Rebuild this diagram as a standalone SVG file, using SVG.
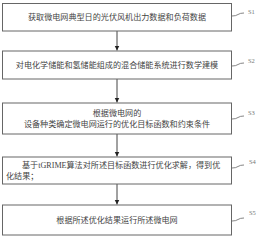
<svg xmlns="http://www.w3.org/2000/svg" width="260" height="238" viewBox="0 0 260 238">
<defs>
<style>
.box{fill:#fff;stroke:#666;stroke-width:1}
.t{font-family:"Liberation Serif","Noto Sans CJK SC",serif;font-size:8.1px;fill:#444}
.lbl{font-family:"Liberation Serif",serif;font-size:6.5px;fill:#777}
.lead{fill:none;stroke:#666;stroke-width:0.8}
.conn{stroke:#444;stroke-width:1;fill:none}
</style>
<marker id="ah" markerWidth="6" markerHeight="6" refX="5" refY="3" orient="auto" markerUnits="userSpaceOnUse">
<path d="M0,0.5 L5,3 L0,5.5 z" fill="#222"/>
</marker>
</defs>
<rect width="260" height="238" fill="#fff"/>
<g id="connectors">
<line class="conn" x1="117" y1="31" x2="117" y2="50.5" marker-end="url(#ah)"/>
<line class="conn" x1="117" y1="79" x2="117" y2="102.5" marker-end="url(#ah)"/>
<line class="conn" x1="117" y1="134" x2="117" y2="156.5" marker-end="url(#ah)"/>
<line class="conn" x1="117" y1="184" x2="117" y2="204.5" marker-end="url(#ah)"/>
</g>
<g id="s1">
<rect class="box" x="2.5" y="3.5" width="229" height="27.5"/>
<text class="t" x="117" y="20" text-anchor="middle">获取微电网典型日的光伏风机出力数据和负荷数据</text>
<path class="lead" d="M232,16 q4,0 6,-1.5 q2,-1.5 6,-1.5"/>
<text class="lbl" x="248" y="14">S1</text>
</g>
<g id="s2">
<rect class="box" x="2.5" y="51" width="229" height="28"/>
<text class="t" x="117" y="68" text-anchor="middle">对电化学储能和氢储能组成的混合储能系统进行数学建模</text>
<path class="lead" d="M232,66 q4,0 6,-1.5 q2,-1.5 6,-1.5"/>
<text class="lbl" x="248" y="63">S2</text>
</g>
<g id="s3">
<rect class="box" x="2.5" y="103" width="229" height="31"/>
<text class="t" x="117" y="116" text-anchor="middle">根据微电网的</text>
<text class="t" x="117" y="127" text-anchor="middle">设备种类确定微电网运行的优化目标函数和约束条件</text>
<path class="lead" d="M232,119 q4,0 6,-1.5 q2,-1.5 6,-1.5"/>
<text class="lbl" x="248" y="115">S3</text>
</g>
<g id="s4">
<rect class="box" x="2.5" y="157" width="229" height="27"/>
<text class="t" x="22" y="168">基于tGRIME算法对所述目标函数进行优化求解，得到优</text>
<text class="t" x="6" y="179">化结果；</text>
<path class="lead" d="M232,168 q4,0 6,-1.5 q2,-1.5 6,-1.5"/>
<text class="lbl" x="249" y="164">S4</text>
</g>
<g id="s5">
<rect class="box" x="2.5" y="205" width="229" height="30"/>
<text class="t" x="117" y="223" text-anchor="middle">根据所述优化结果运行所述微电网</text>
<path class="lead" d="M232,221 q4,0 6,-1.5 q2,-1.5 6,-1.5"/>
<text class="lbl" x="249" y="215">S5</text>
</g>
</svg>
